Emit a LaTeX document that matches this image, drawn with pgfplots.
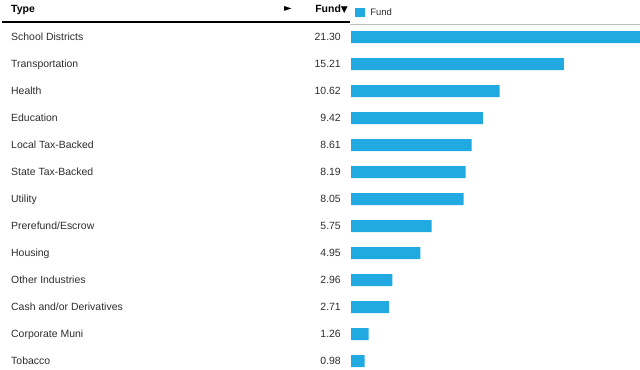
\documentclass[border=0pt]{standalone}
\usepackage{pgfplots}
\pgfplotsset{compat=1.18}
\usepackage{fontspec}
\setmainfont{Liberation Sans}
\newfontfamily\symfont{DejaVu Sans}
\definecolor{barblue}{RGB}{33,170,225}
\definecolor{txt}{RGB}{45,45,45}
\pgfplotstableread{
idx value
0 21.30
1 15.21
2 10.62
3 9.42
4 8.61
5 8.19
6 8.05
7 5.75
8 4.95
9 2.96
10 2.71
11 1.26
12 0.98
}\datatable
\begin{document}
\begin{tikzpicture}
\begin{axis}[
  at={(0,0)}, anchor=south west,
  width=640bp, height=370bp, scale only axis,
  hide axis,
  xmin=-25.0714, xmax=20.6429,
  ymin=-1.3704, ymax=12.3333,
  y dir=reverse,
  xbar, bar width=12bp,
  clip mode=individual,
  legend style={at={(axis cs:0.30,-0.89)}, anchor=west, draw=none, fill=none,
    inner sep=0pt, font=\fontsize{9.5}{10}\selectfont, text=txt,
    /tikz/every odd column/.append style={column sep=3bp}},
  legend image code/.code={\fill[barblue] (0bp,-4.5bp) rectangle (10bp,4.5bp);},
]
\addplot[fill=barblue, draw=none] table[x=value, y=idx] {\datatable};
\addlegendentry{Fund}
% category names and values
\foreach \n/\v [count=\i from 0] in {School Districts/21.30, Transportation/15.21, Health/10.62, Education/9.42, Local Tax-Backed/8.61, State Tax-Backed/8.19, Utility/8.05, {Prerefund/Escrow}/5.75, Housing/4.95, Other Industries/2.96, {Cash and/or Derivatives}/2.71, Corporate Muni/1.26, Tobacco/0.98} {
  \edef\tmp{\noexpand\node[anchor=base west, yshift=-3.7bp, inner sep=0pt, font=\noexpand\fontsize{10.5}{11}\noexpand\selectfont, text=txt] at (axis cs:-24.286,\i) {\n};
    \noexpand\node[anchor=base east, yshift=-3.7bp, inner sep=0pt, font=\noexpand\fontsize{10.5}{11}\noexpand\selectfont, text=txt] at (axis cs:-0.714,\i) {\v};}
  \tmp
}
% header
\node[anchor=base west, yshift=-3.8bp, inner sep=0pt, font=\bfseries\fontsize{10.5}{11}\selectfont] at (axis cs:-24.286,-1.037) {Type};
\node[inner sep=0pt, font=\symfont\fontsize{10}{10}\selectfont] at (axis cs:-4.5,-1.037) {►};
\node[anchor=base east, yshift=-3.8bp, inner sep=0pt, font=\bfseries\fontsize{10.5}{11}\selectfont] at (axis cs:-0.214,-1.037) {Fund{\symfont\fontsize{9}{10}\selectfont▼}};
\draw[black, line width=1.6bp] (axis cs:-24.93,-0.556) -- (axis cs:-0.071,-0.556);
\draw[gray!50, line width=0.8bp] (axis cs:-0.071,-0.481) -- (axis cs:20.6429,-0.481);
\end{axis}
\pgfresetboundingbox
\path (0,0) rectangle (640bp,370bp);
\end{tikzpicture}
\end{document}
